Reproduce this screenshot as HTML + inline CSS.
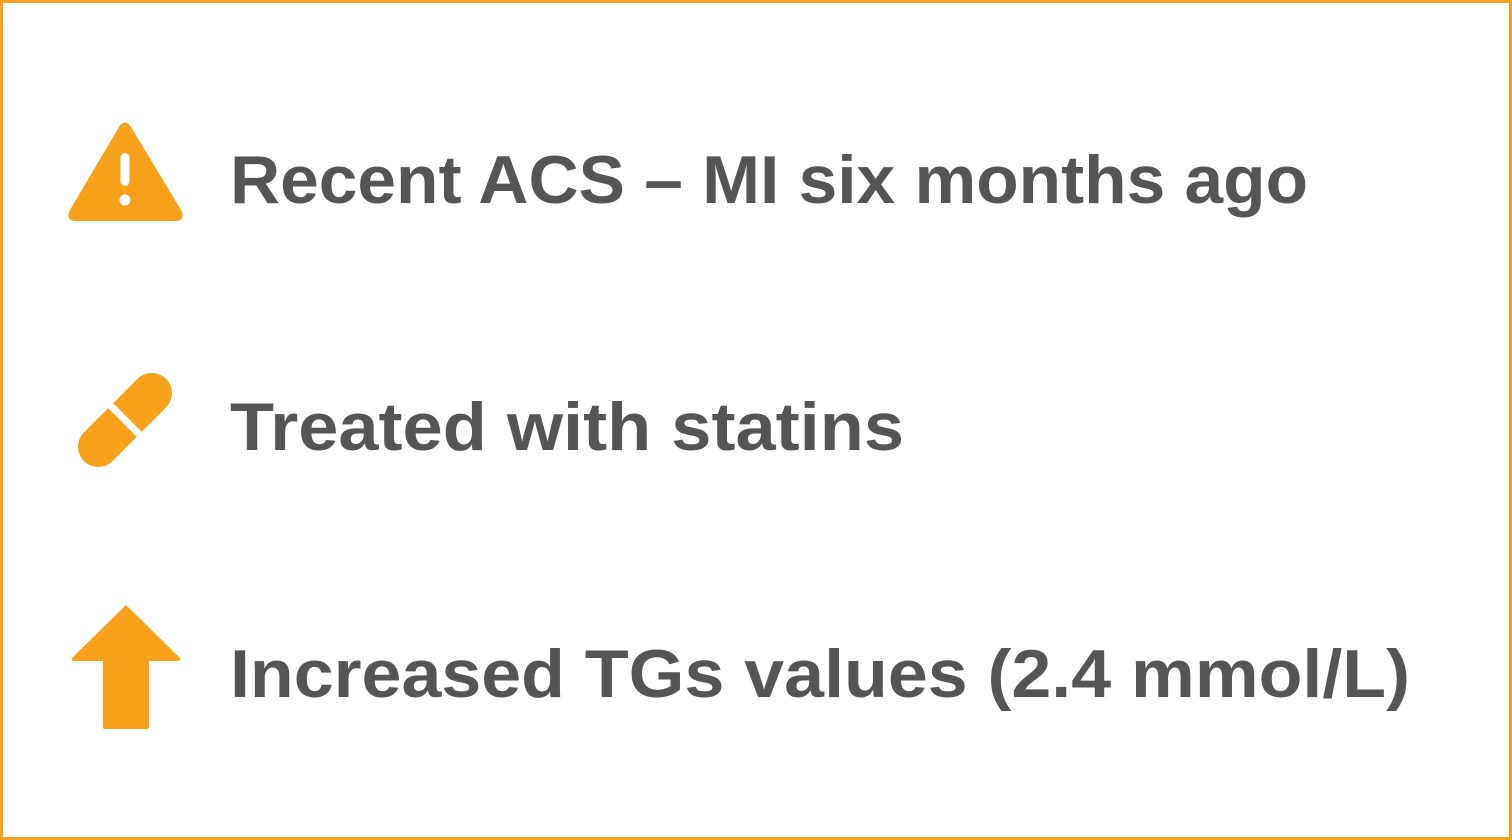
<!DOCTYPE html>
<html><head><meta charset="utf-8"><style>
html,body{margin:0;padding:0;background:#fff;}
svg{display:block;}
text{font-family:"Liberation Sans","DejaVu Sans",sans-serif;font-weight:bold;fill:#555555;}
</style></head><body>
<svg width="1512" height="840" viewBox="0 0 1512 840">
  <rect x="1.5" y="1.5" width="1509" height="837" fill="#fff" stroke="#F7A123" stroke-width="3"/>

  <g>
    <path d="M119,127 Q125,118 131,127 L181,210 Q186,221 175,221 L76,221 Q65,221 70,210 Z" fill="#F7A11B"/>
    <rect x="120.5" y="153" width="9" height="33" rx="4.5" fill="#fff"/>
    <circle cx="125" cy="200" r="5.5" fill="#fff"/>
  </g>
  <text x="230" y="203" font-size="68" textLength="1078" lengthAdjust="spacingAndGlyphs">Recent ACS – MI six months ago</text>

  <g transform="translate(125,420) rotate(-45) scale(0.88)">
    <path d="M-4,-23 L-43,-23 A23,23 0 0 0 -43,23 L-4,23 Z" fill="#F7A11B"/>
    <path d="M4,-23 L43,-23 A23,23 0 0 1 43,23 L4,23 Z" fill="#F7A11B"/>
  </g>
  <text x="230" y="450" font-size="68" textLength="674" lengthAdjust="spacingAndGlyphs">Treated with statins</text>

  <g>
    <path d="M126,605 L180,658 Q181,661 178,661 L149,661 L149,727 Q149,729 147,729 L105,729 Q103,729 103,727 L103,661 L74,661 Q71,661 72,658 Z" fill="#F7A11B"/>
  </g>
  <text x="230" y="697" font-size="68" textLength="1180" lengthAdjust="spacingAndGlyphs">Increased TGs values (2.4 mmol/L)</text>
</svg>
</body></html>
